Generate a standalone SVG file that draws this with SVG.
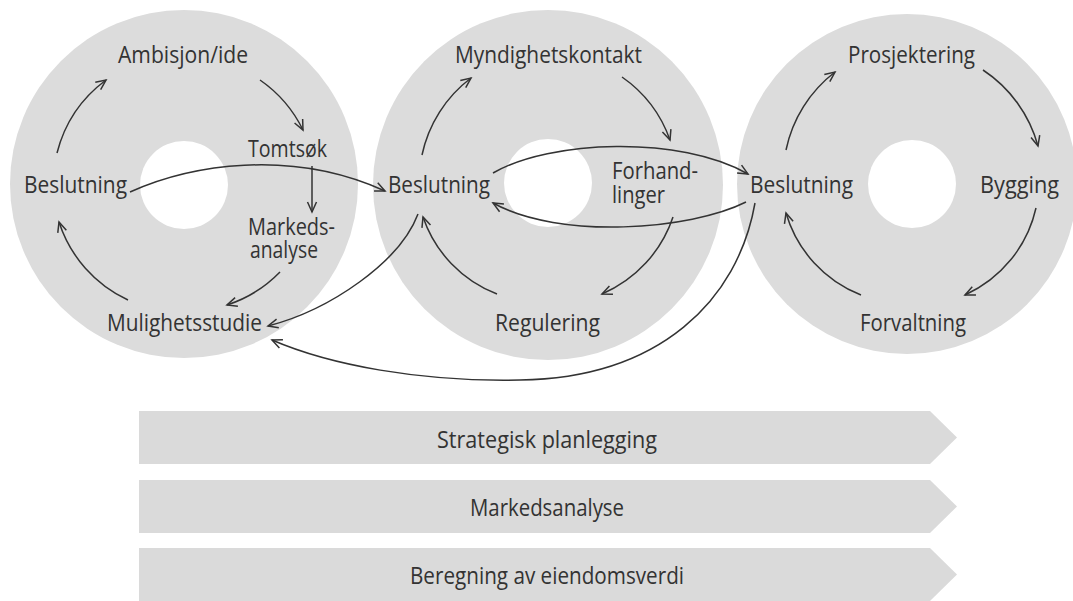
<svg xmlns="http://www.w3.org/2000/svg" width="1073" height="601" viewBox="0 0 1073 601">
  <defs>
    <style>
      .disc { fill: #dcdcdc; }
      .hole { fill: #ffffff; }
      .band { fill: #dadada; }
      .lbl { font-family: "Open Sans", "Noto Sans", "Liberation Sans", sans-serif; font-size: 24px; font-weight: 500; fill: #333333; }
      .con { fill: none; stroke: #333333; stroke-width: 1.5; marker-end: url(#ah); }
    </style>
    <marker id="ah" viewBox="-11 -6 13 12" markerWidth="13" markerHeight="12" refX="0" refY="0" orient="auto" markerUnits="userSpaceOnUse">
      <path d="M-10,-4.5 L0,0 L-10,4.5" fill="none" stroke="#333333" stroke-width="1.5"/>
    </marker>
  </defs>
  <rect width="1073" height="601" fill="#ffffff"/>

  <g id="discs">
    <circle class="disc" cx="184" cy="184" r="174"/>
    <circle class="hole" cx="184" cy="185" r="44"/>
    <circle class="disc" cx="548" cy="185" r="175"/>
    <circle class="hole" cx="548" cy="183" r="44"/>
    <circle class="disc" cx="907" cy="184" r="170"/>
    <circle class="hole" cx="912" cy="184" r="44"/>
  </g>

  <g id="band-strategisk">
    <path class="band" d="M139,411 L930,411 L957,437.5 L930,464 L139,464 Z"/>
    <text class="lbl" x="437" y="448" textLength="220" lengthAdjust="spacingAndGlyphs">Strategisk planlegging</text>
  </g>
  <g id="band-markedsanalyse">
    <path class="band" d="M139,480 L930,480 L957,506.5 L930,533 L139,533 Z"/>
    <text class="lbl" x="470" y="516" textLength="154" lengthAdjust="spacingAndGlyphs">Markedsanalyse</text>
  </g>
  <g id="band-beregning">
    <path class="band" d="M139,548 L930,548 L957,574.5 L930,601 L139,601 Z"/>
    <text class="lbl" x="410" y="584" textLength="274" lengthAdjust="spacingAndGlyphs">Beregning av eiendomsverdi</text>
  </g>

  <g id="connectors">
    <!-- cycle 1 -->
    <path class="con" d="M57,153 A131,131 0 0 1 106,80"/>
    <path class="con" d="M260,80 A131,131 0 0 1 303,130"/>
    <path class="con" d="M312,166 L312,212"/>
    <path class="con" d="M280,272 A130,130 0 0 1 227,305"/>
    <path class="con" d="M128,300 A130,130 0 0 1 59,222"/>
    <!-- cycle 2 -->
    <path class="con" d="M422,155 A130,130 0 0 1 471,78"/>
    <path class="con" d="M622,77 A129,129 0 0 1 670,140"/>
    <path class="con" d="M673,217 A128,128 0 0 1 602,294"/>
    <path class="con" d="M497,294 A126,126 0 0 1 423,217"/>
    <!-- cycle 3 -->
    <path class="con" d="M786,150 A132,132 0 0 1 835,72"/>
    <path class="con" d="M983,70 A133,133 0 0 1 1038,146"/>
    <path class="con" d="M1036,208 A126,126 0 0 1 965,295"/>
    <path class="con" d="M861,295 A126,126 0 0 1 786,213"/>
    <!-- cross links -->
    <path class="con" d="M130,192 C190,165 290,148 385,191"/>
    <path class="con" d="M493,173 C550,140 680,135 748,174"/>
    <path class="con" d="M746,202 C690,230 560,240 493,203"/>
    <path class="con" d="M418,214 C400,262 330,310 268,326"/>
    <path class="con" d="M755,203 C738,300 660,378 520,380 C420,382 330,365 272,340"/>
  </g>

  <g id="node-ambisjon"><text class="lbl" x="118" y="63" textLength="130" lengthAdjust="spacingAndGlyphs">Ambisjon/ide</text></g>
  <g id="node-tomtsok"><text class="lbl" x="248" y="157" textLength="79" lengthAdjust="spacingAndGlyphs">Tomtsøk</text></g>
  <g id="node-beslutning1"><text class="lbl" x="24" y="193" textLength="103" lengthAdjust="spacingAndGlyphs">Beslutning</text></g>
  <g id="node-markedsanalyse">
    <text class="lbl" x="248" y="235" textLength="87" lengthAdjust="spacingAndGlyphs">Markeds-</text>
    <text class="lbl" x="250" y="258" textLength="68" lengthAdjust="spacingAndGlyphs">analyse</text>
  </g>
  <g id="node-mulighetsstudie"><text class="lbl" x="107" y="331" textLength="155" lengthAdjust="spacingAndGlyphs">Mulighetsstudie</text></g>

  <g id="node-myndighetskontakt"><text class="lbl" x="455" y="63" textLength="187" lengthAdjust="spacingAndGlyphs">Myndighetskontakt</text></g>
  <g id="node-beslutning2"><text class="lbl" x="388" y="193" textLength="102" lengthAdjust="spacingAndGlyphs">Beslutning</text></g>
  <g id="node-forhandlinger">
    <text class="lbl" x="612" y="179" textLength="86" lengthAdjust="spacingAndGlyphs">Forhand-</text>
    <text class="lbl" x="612" y="203" textLength="53" lengthAdjust="spacingAndGlyphs">linger</text>
  </g>
  <g id="node-regulering"><text class="lbl" x="495" y="331" textLength="105" lengthAdjust="spacingAndGlyphs">Regulering</text></g>

  <g id="node-prosjektering"><text class="lbl" x="848" y="63" textLength="127" lengthAdjust="spacingAndGlyphs">Prosjektering</text></g>
  <g id="node-beslutning3"><text class="lbl" x="750" y="193" textLength="103" lengthAdjust="spacingAndGlyphs">Beslutning</text></g>
  <g id="node-bygging"><text class="lbl" x="980" y="193" textLength="79" lengthAdjust="spacingAndGlyphs">Bygging</text></g>
  <g id="node-forvaltning"><text class="lbl" x="860" y="331" textLength="106" lengthAdjust="spacingAndGlyphs">Forvaltning</text></g>
</svg>
